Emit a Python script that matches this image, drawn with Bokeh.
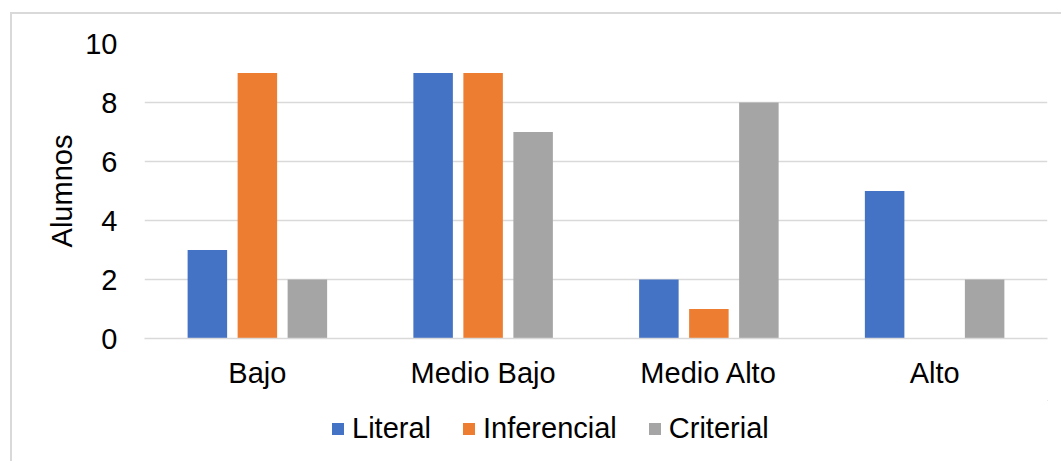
from bokeh.plotting import figure
from bokeh.layouts import column
from bokeh.models import FactorRange, Range1d, FixedTicker, Legend, LegendItem, ColumnDataSource
from bokeh.transform import dodge
from bokeh.embed import file_html
from bokeh.resources import INLINE

categories = ["Bajo", "Medio Bajo", "Medio Alto", "Alto"]
literal = [3, 9, 2, 5]
inferencial = [9, 9, 1, 0]
criterial = [2, 7, 8, 2]
series_names = ["Literal", "Inferencial", "Criterial"]
colors = ["#4472C4", "#ED7D31", "#A5A5A5"]
y_ticks = [0, 2, 4, 6, 8, 10]

FONT = "Liberation Sans"
FS = "29px"

src = ColumnDataSource(dict(cat=categories, Literal=literal, Inferencial=inferencial, Criterial=criterial))

p = figure(width=1049, height=386, x_range=FactorRange(*categories, range_padding=0),
           y_range=Range1d(0, 10), output_backend="svg", toolbar_location=None,
           min_border_left=132, min_border_right=14, min_border_top=29, min_border_bottom=62)
p.outline_line_color = None
p.background_fill_color = "white"
p.border_fill_color = "white"

offsets = [-0.2215, 0.0, 0.2215]
for name, col, off in zip(series_names, colors, offsets):
    p.vbar(x=dodge("cat", off, range=p.x_range), top=name, width=0.175, source=src,
           fill_color=col, line_color=None)

p.xgrid.grid_line_color = None
p.ygrid.grid_line_color = "#d9d9d9"
p.ygrid.grid_line_width = 1.5
p.yaxis.ticker = FixedTicker(ticks=y_ticks)

for ax in (p.xaxis[0], p.yaxis[0]):
    ax.major_tick_line_color = None
    ax.minor_tick_line_color = None
    ax.major_label_text_font = FONT
    ax.major_label_text_font_size = FS
    ax.major_label_text_color = "black"

p.yaxis.axis_line_color = None
p.yaxis.major_label_standoff = 21
p.yaxis.axis_label = "Alumnos"
p.yaxis.axis_label_text_font = FONT
p.yaxis.axis_label_text_font_size = FS
p.yaxis.axis_label_text_font_style = "normal"
p.yaxis.axis_label_text_color = "black"
p.yaxis.axis_label_standoff = 4

p.xaxis.axis_line_color = "#d9d9d9"
p.xaxis.axis_line_width = 1.5
p.xaxis.major_label_standoff = 12

# legend strip (its frame is aligned with the main frame by the column layout)
pl = figure(width=1049, height=61, x_range=Range1d(0, 1), y_range=Range1d(0, 1),
            output_backend="svg", toolbar_location=None, x_axis_type=None, y_axis_type=None,
            min_border_left=0, min_border_right=0, min_border_top=0, min_border_bottom=0)
pl.outline_line_color = None
pl.grid.grid_line_color = None
leg_renderers = []
for col in colors:
    leg_renderers.append(pl.vbar(x=[5], top=[5], bottom=[4], width=0.1, fill_color=col, line_color=None))

legend = Legend(items=[LegendItem(label=n, renderers=[r], index=0) for n, r in zip(series_names, leg_renderers)],
                orientation="horizontal", location=(186, 16))
legend.glyph_width = 15
legend.glyph_height = 15
legend.label_standoff = 7
legend.spacing = 30
legend.padding = 0
legend.margin = 0
legend.border_line_color = None
legend.background_fill_alpha = 0
legend.label_text_font = FONT
legend.label_text_font_size = FS
legend.label_text_color = "black"
pl.add_layout(legend, "center")

layout = column(p, pl)
layout.styles = {"margin-left": "10px", "margin-top": "12px",
                 "border-left": "2px solid #d9d9d9", "border-top": "2px solid #d9d9d9"}

open("out.html", "w").write(file_html(layout, INLINE))
